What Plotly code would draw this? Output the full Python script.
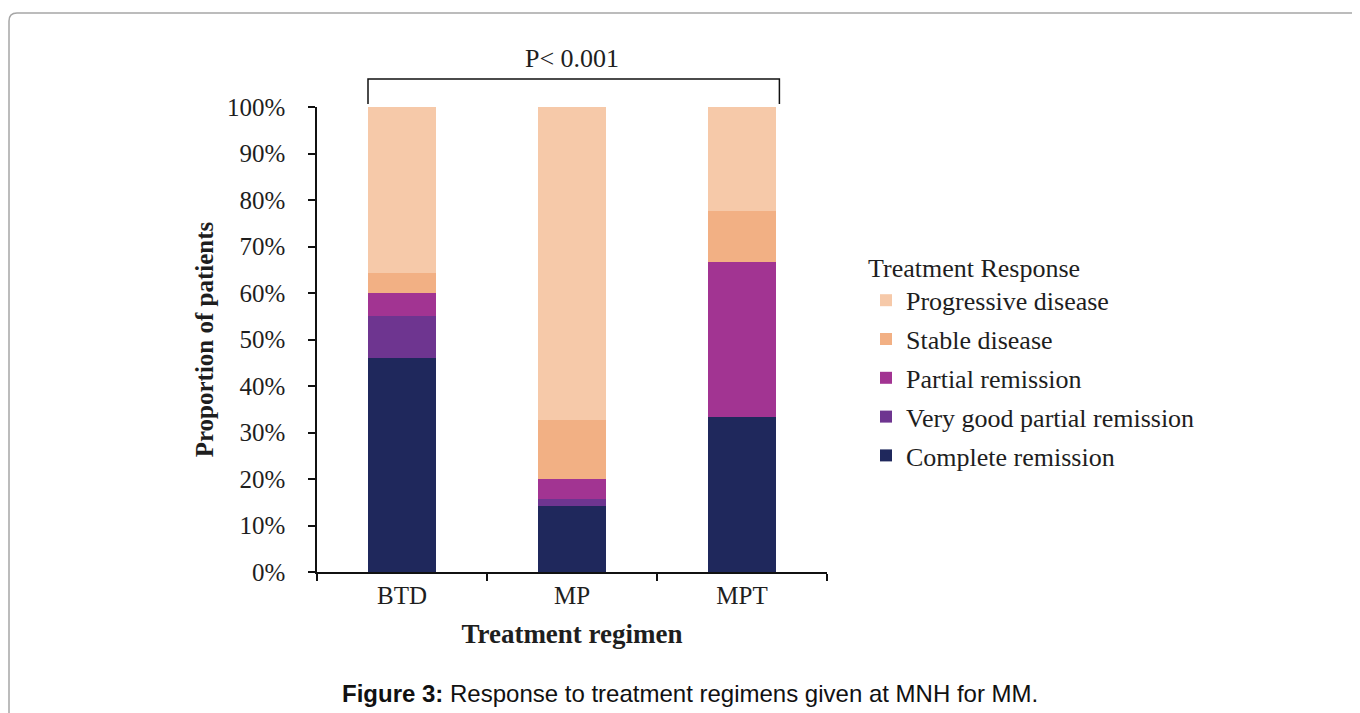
import plotly.graph_objects as go

# ---- data (percent of patients) ----
regimens = ["BTD", "MP", "MPT"]
complete_remission = [46.0, 14.2, 33.3]
very_good_partial = [9.1, 1.6, 0.0]
partial_remission = [5.0, 4.1, 33.3]
stable_disease = [4.3, 12.8, 11.1]
progressive_disease = [35.6, 67.3, 22.3]

series_names = ["Complete remission", "Very good partial remission",
                "Partial remission", "Stable disease", "Progressive disease"]
series_values = [complete_remission, very_good_partial, partial_remission,
                 stable_disease, progressive_disease]
series_colors = ["#1f285c", "#6e3590", "#a23492", "#f2b084", "#f6c9a9"]

y_ticks = list(range(0, 101, 10))
y_tick_labels = [f"{v}%" for v in y_ticks]

SERIF = "Liberation Serif"
TXT = "#1e1e1e"

fig = go.Figure()
n = len(series_names)
for i, (name, vals, col) in enumerate(zip(series_names, series_values, series_colors)):
    fig.add_trace(go.Bar(
        x=regimens, y=vals, name=name, legendgroup=name,
        legendrank=1000 + (n - i),
        marker=dict(color=col, line=dict(width=0)),
        width=0.4,
    ))

# page has an 8px body margin: figure coords = page coords - 8
OFF = 8
W, H = 1360, 713
L, T = 317 - OFF, 107 - OFF          # plot area left/top (figure coords)
Rr, Bb = 827 - OFF, 572 - OFF        # plot area right/bottom
pw, ph = Rr - L, Bb - T


def px(page_x):
    return (page_x - OFF - L) / pw


def py(page_y):
    return (Bb - (page_y - OFF)) / ph


fig.update_layout(
    width=W, height=H,
    margin=dict(l=L, r=W - Rr, t=T, b=H - Bb, pad=0),
    barmode="stack",
    plot_bgcolor="white", paper_bgcolor="white",
    font=dict(family=SERIF, color=TXT, size=24),
    showlegend=True,
    legend=dict(
        title=dict(text="Treatment Response", font=dict(family=SERIF, size=26, color=TXT)),
        font=dict(family=SERIF, size=26, color=TXT),
        traceorder="grouped",
        tracegroupgap=2,
        x=px(866), y=py(243), xanchor="left", yanchor="top",
        bgcolor="rgba(0,0,0,0)",
    ),
    xaxis=dict(
        range=[-0.5, 2.5],
        showline=True, linecolor="#111", linewidth=1.5,
        ticks="outside", tickson="boundaries", ticklen=7, tickwidth=1.5, tickcolor="#111",
        tickfont=dict(family=SERIF, size=25, color=TXT),
        showgrid=False, zeroline=False,
        title=dict(text="Treatment regimen",
                   font=dict(family=SERIF, size=27, color=TXT, weight="bold"),
                   standoff=16),
    ),
    yaxis=dict(
        range=[0, 100],
        tickvals=y_ticks, ticktext=y_tick_labels,
        showline=True, linecolor="#111", linewidth=1.5,
        ticks="outside", ticklen=7, tickwidth=1.5, tickcolor="#111",
        tickfont=dict(family=SERIF, size=25, color=TXT),
        ticklabelstandoff=18,
        showgrid=False, zeroline=False,
        title=dict(text="Proportion of patients",
                   font=dict(family=SERIF, size=25, color=TXT, weight="bold"),
                   standoff=6),
    ),
)

# significance bracket
bx0, bx1 = -0.2, 2.22
ytop, ybot = py(79), py(104)
fig.add_shape(type="path", xref="x", yref="paper",
              path=f"M {bx0},{ybot} L {bx0},{ytop} L {bx1},{ytop} L {bx1},{ybot}",
              line=dict(color="#111", width=1.5))
fig.add_annotation(x=1.0, xref="x", y=py(59), yref="paper", text="P< 0.001",
                   showarrow=False, font=dict(family=SERIF, size=26, color=TXT),
                   xanchor="center", yanchor="middle")

# caption
fig.add_annotation(x=px(690), xref="paper", y=py(693), yref="paper",
                   text="<b>Figure 3:</b> Response to treatment regimens given at MNH for MM.",
                   showarrow=False, font=dict(family="Liberation Sans", size=24, color="#111"),
                   xanchor="center", yanchor="middle")

# rounded frame
fx0, fy0, r = 9, 13, 8
fig.add_shape(type="path", xref="paper", yref="paper",
              path=(f"M {px(fx0)},{py(740)} L {px(fx0)},{py(fy0 + r)} "
                    f"Q {px(fx0)},{py(fy0)} {px(fx0 + r)},{py(fy0)} L {px(1400)},{py(fy0)}"),
              line=dict(color="#a6a6a6", width=1.5))

fig.write_html("out.html")
